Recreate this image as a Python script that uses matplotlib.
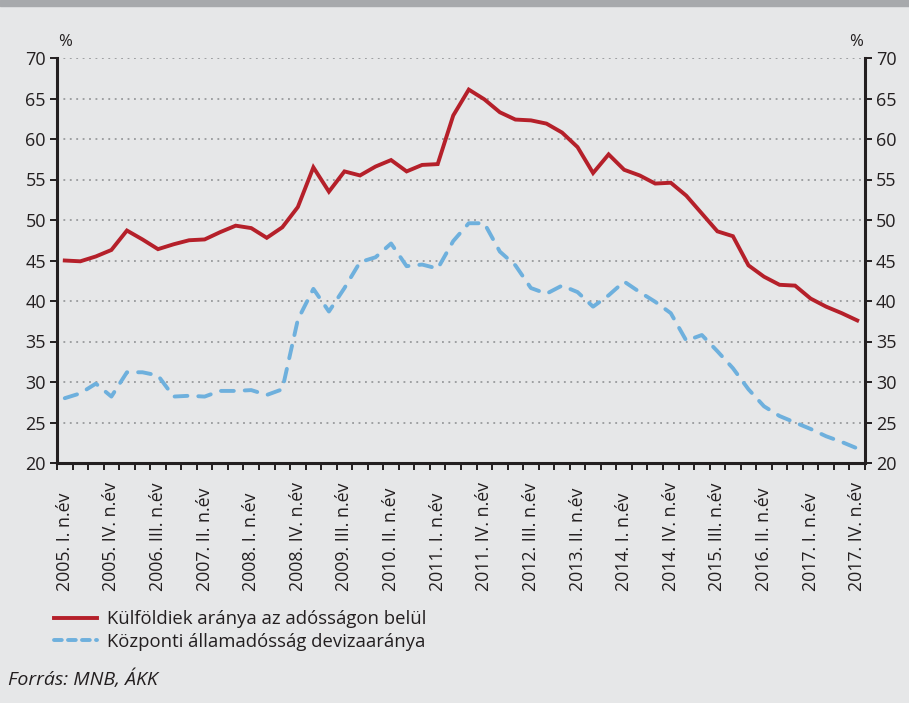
import numpy as np
import matplotlib.pyplot as plt
from matplotlib.lines import Line2D
import matplotlib.transforms as mtransforms

plt.rcParams['font.family'] = ['Open Sans', 'DejaVu Sans']

# negyedéves adatok, 2005 I. - 2017 IV.
years = list(range(2005, 2018))
quarters = ["I.", "II.", "III.", "IV."]
periods = [f"{y}. {q} n.év" for y in years for q in quarters]

kulfoldiek = [45.0, 44.9, 45.5, 46.3, 48.7, 47.6, 46.4, 47.0, 47.5, 47.6,
              48.5, 49.3, 49.0, 47.8, 49.1, 51.6, 56.5, 53.5, 56.0, 55.5,
              56.6, 57.4, 56.0, 56.8, 56.9, 62.9, 66.1, 64.9, 63.3, 62.4,
              62.3, 61.9, 60.8, 59.0, 55.8, 58.1, 56.2, 55.5, 54.5, 54.6,
              53.0, 50.8, 48.6, 48.0, 44.4, 43.0, 42.0, 41.9, 40.3, 39.3,
              38.5, 37.6]
deviza = [28.0, 28.6, 29.8, 28.2, 31.2, 31.2, 30.8, 28.2, 28.3, 28.2,
          28.9, 28.9, 29.0, 28.4, 29.1, 37.7, 41.5, 38.7, 41.6, 44.8,
          45.4, 47.1, 44.3, 44.5, 44.0, 47.4, 49.6, 49.6, 46.1, 44.4,
          41.6, 40.9, 41.9, 41.1, 39.3, 40.7, 42.4, 41.1, 39.9, 38.5,
          35.1, 35.8, 33.8, 31.7, 29.1, 27.0, 25.8, 25.0, 24.2, 23.3,
          22.6, 21.8]

label_red = "Külföldiek aránya az adósságon belül"
label_blue = "Központi államadósság devizaaránya"

bg = "#E6E7E8"
red = "#B5202A"
blue = "#6EB0DD"
txt = "#231F20"

fig = plt.figure(figsize=(9.09, 7.03), dpi=100, facecolor=bg)
ax = fig.add_axes([57 / 909, 1 - 463 / 703, 808 / 909, 405 / 703])
ax.set_facecolor(bg)

x = np.arange(len(periods)) + 0.5
ax.plot(x, kulfoldiek, color=red, lw=2.8, solid_joinstyle='miter')
ax.plot(x, deviza, color=blue, lw=2.8, dashes=(3.3, 2.8), dash_capstyle='round')

ax.set_xlim(0, len(periods))
ax.set_ylim(20, 70)
ax.set_yticks(range(20, 75, 5))
for v in range(25, 75, 5):
    ax.axhline(v, color="#8A8C8E", lw=1.1, ls=(0, (1.2, 3.0)), zorder=0)

ax.set_xticks(np.arange(0, len(periods) + 1))
ax.set_xticklabels([])
ax.tick_params(axis='x', which='major', length=5, width=1.4, color=txt, direction='out')
ax.tick_params(axis='y', length=5, width=1.4, color=txt, labelsize=13, labelcolor=txt, pad=3)

# x feliratok: alul igazítva, mint az eredetin
trans = mtransforms.blended_transform_factory(ax.transData, fig.transFigure)
for xi, lab in zip(x[::3], periods[::3]):
    ax.text(xi, 1 - 591 / 703, lab, transform=trans, rotation=90, ha='center',
            va='bottom', fontsize=12.8, color=txt)

for s in ['left', 'right', 'bottom']:
    ax.spines[s].set_linewidth(2.2)
    ax.spines[s].set_color(txt)
ax.spines['top'].set_visible(False)

ax2 = ax.twinx()
ax2.set_ylim(20, 70)
ax2.set_yticks(range(20, 75, 5))
ax2.tick_params(axis='y', length=5, width=1.4, color=txt, labelsize=13, labelcolor=txt, pad=3)
for s in ax2.spines.values():
    s.set_visible(False)

fig.text(65 / 909, 1 - 42 / 703, "%", fontsize=12, color=txt, ha='center', va='center')
fig.text(856 / 909, 1 - 42 / 703, "%", fontsize=12, color=txt, ha='center', va='center')

# felső szürke sáv
fig.patches.append(plt.Rectangle((0, 1 - 6 / 703), 1, 6 / 703, transform=fig.transFigure,
                                 color="#A7A9AC", zorder=0))

handles = [Line2D([], [], color=red, lw=2.8),
           Line2D([], [], color=blue, lw=2.8, dashes=(2.0, 1.6), dash_capstyle='round')]
fig.legend(handles, [label_red, label_blue], loc='upper left',
           bbox_to_anchor=(54 / 909, 1 - 610 / 703), frameon=False,
           fontsize=13.3, handlelength=2.35, handletextpad=0.5, labelspacing=0.25,
           borderpad=0, borderaxespad=0, labelcolor=txt)

fig.text(8 / 909, 1 - 679 / 703, "Forrás: MNB, ÁKK", fontsize=14, style='italic',
         color=txt, va='center')

fig.savefig("out.png", dpi=100, facecolor=bg)
